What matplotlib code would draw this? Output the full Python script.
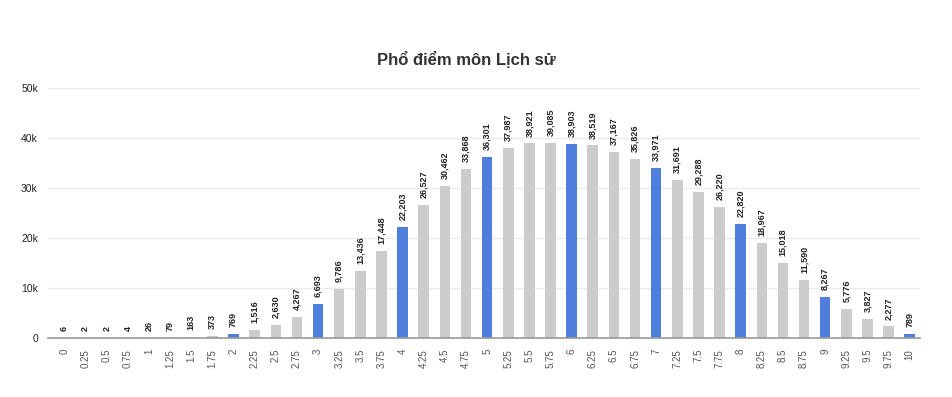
import matplotlib.pyplot as plt
import matplotlib.ticker as mticker

plt.rcParams['font.family'] = ['Liberation Sans', 'DejaVu Sans']

# score points and number of students
scores = ['0', '0.25', '0.5', '0.75', '1', '1.25', '1.5', '1.75', '2', '2.25',
          '2.5', '2.75', '3', '3.25', '3.5', '3.75', '4', '4.25', '4.5', '4.75',
          '5', '5.25', '5.5', '5.75', '6', '6.25', '6.5', '6.75', '7', '7.25',
          '7.5', '7.75', '8', '8.25', '8.5', '8.75', '9', '9.25', '9.5', '9.75', '10']
counts = [6, 2, 2, 4, 26, 79, 163, 373, 769, 1516,
          2630, 4267, 6693, 9786, 13436, 17448, 22203, 26527, 30462, 33868,
          36301, 37987, 38921, 39085, 38903, 38519, 37167, 35826, 33971, 31691,
          29288, 26220, 22820, 18967, 15018, 11590, 8267, 5776, 3827, 2277, 789]

# whole scores are highlighted
colors = ['#4f7fdc' if float(s).is_integer() else '#cccccc' for s in scores]

fig = plt.figure(figsize=(9.52, 3.97), dpi=100)
ax = fig.add_axes([0.05, 0.149, 0.916, 0.629])

x = range(len(scores))
ax.bar(x, counts, width=0.5, color=colors, zorder=3)

for i, v in enumerate(counts):
    ax.annotate(f'{v:,}', (i, v), xytext=(0, 5), textcoords='offset points',
                rotation=90, ha='center', va='bottom', fontsize=6.5,
                fontweight='bold', color='#222222')

ax.set_xlim(-0.8, 40.47)
ax.set_ylim(0, 50000)
ax.set_xticks(list(x))
ax.set_xticklabels(scores, rotation=90, fontsize=7, color='#555555')
ax.set_yticks([0, 10000, 20000, 30000, 40000, 50000])
ax.yaxis.set_major_formatter(mticker.FuncFormatter(
    lambda v, p: '0' if v == 0 else f'{int(v / 1000)}k'))
ax.tick_params(axis='y', labelsize=7.5, colors='#222222', length=0, pad=7)
ax.tick_params(axis='x', length=0, pad=8)

ax.grid(axis='y', color='#ebebeb', linewidth=1, zorder=0)
for s in ['top', 'right', 'left']:
    ax.spines[s].set_visible(False)
ax.spines['bottom'].set_color('#999999')
ax.spines['bottom'].set_linewidth(1.2)
ax.spines['bottom'].set_zorder(4)

fig.text(0.49, 0.85, 'Phổ điểm môn Lịch sử', ha='center', va='center',
         fontsize=12, fontweight='bold', color='#333333')

fig.savefig('out.png', dpi=100)
